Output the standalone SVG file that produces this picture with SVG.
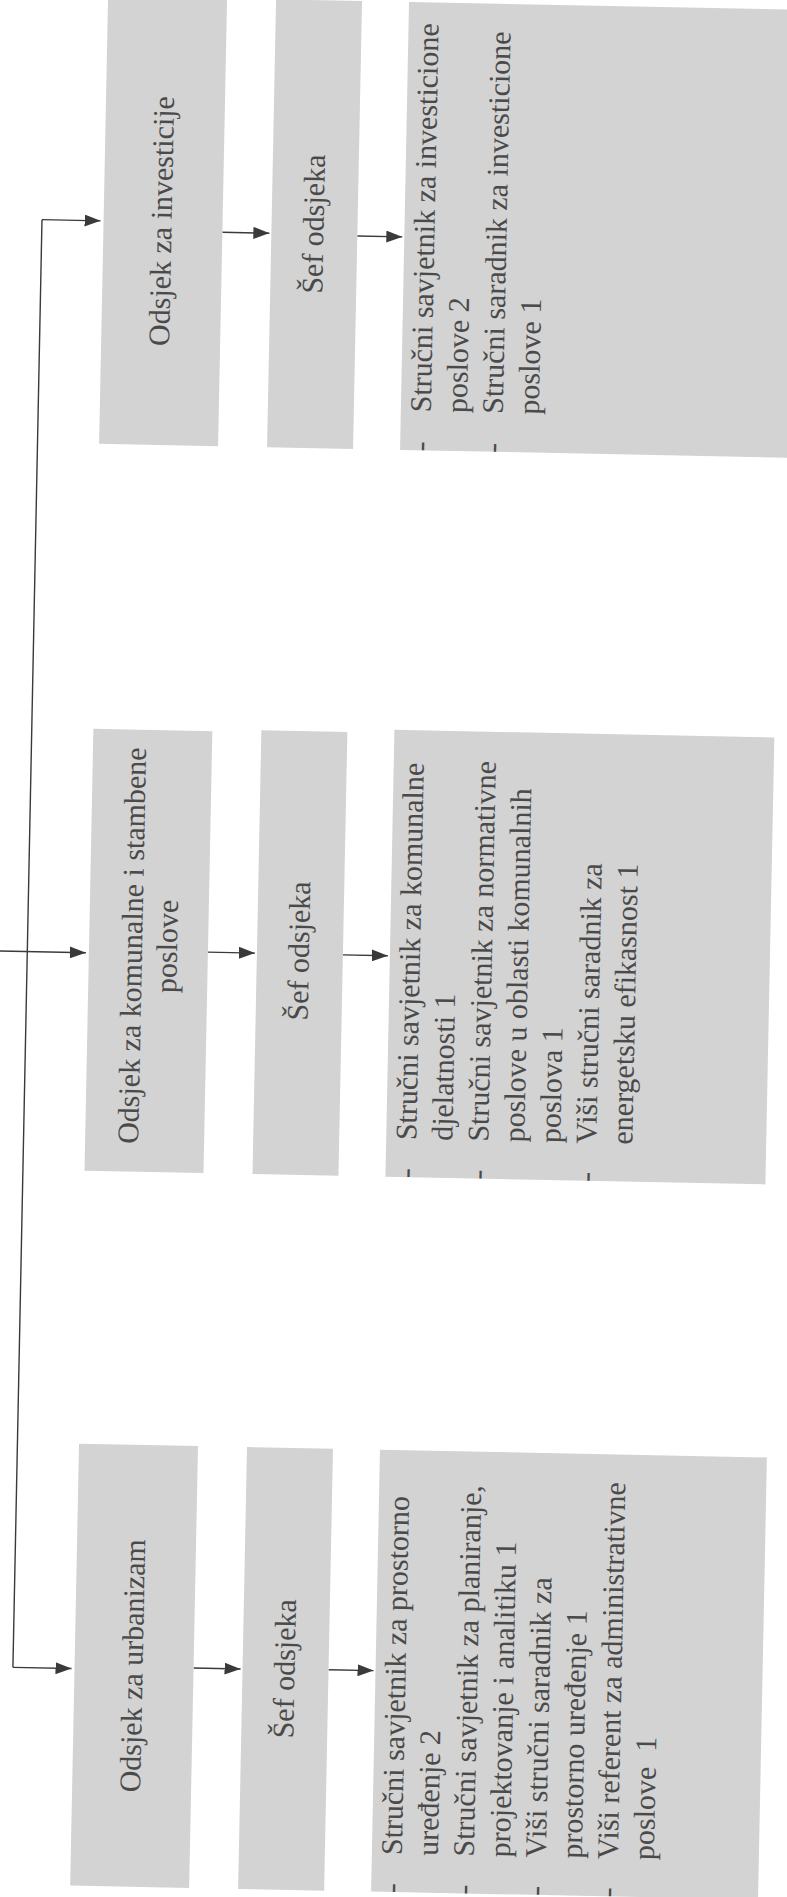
<svg xmlns="http://www.w3.org/2000/svg" width="787" height="1897" viewBox="0 0 787 1897">
<defs>
<style>
.box{fill:#d3d3d3}
.t{font-family:"Liberation Serif","Times New Roman",serif;font-size:30px;fill:#4a4a4a}
.m{text-anchor:middle}
.c{fill:none;stroke:#3a3a3a;stroke-width:1.4}
.a{marker-end:url(#ah)}
</style>
<marker id="ah" viewBox="0 0 16 12" refX="16" refY="6" markerWidth="16" markerHeight="12" markerUnits="userSpaceOnUse" orient="auto"><path d="M0,0 L16,6 L0,12 z" fill="#3a3a3a"/></marker>
</defs>
<rect x="0" y="0" width="787" height="1897" fill="#ffffff"/>
<g transform="rotate(1.15 400 950)">
<g id="connectors">
<path class="c" d="M27.4,227 V1675"/>
<path class="c a" d="M27.4,227 H86"/>
<path class="c a" d="M-20,959 H86"/>
<path class="c a" d="M27.4,1675 H86"/>
<path class="c a" d="M208,236 H255"/>
<path class="c a" d="M343,237 H388"/>
<path class="c a" d="M208,956 H255"/>
<path class="c a" d="M343,956 H388"/>
<path class="c a" d="M208,1672 H255"/>
<path class="c a" d="M343,1671 H388"/>
</g>
<g id="odsjek-investicije">
<rect class="box" x="89" y="2" width="119" height="448"/>
<text class="t m" transform="translate(157,226) rotate(-90)">Odsjek za investicije</text>
</g>
<g id="sef-investicije">
<rect class="box" x="257" y="2" width="86" height="448"/>
<text class="t m" transform="translate(309,226) rotate(-90)">Šef odsjeka</text>
</g>
<g id="poslovi-investicije">
<rect class="box" x="390" y="2" width="392" height="448"/>
<text class="t" transform="translate(0,412) rotate(-90)"><tspan x="0" y="420">Stručni savjetnik za investicione</tspan><tspan x="0" y="456">poslove 2</tspan><tspan x="0" y="492">Stručni saradnik za investicione</tspan><tspan x="0" y="528">poslove 1</tspan></text>
<text class="t" transform="translate(0,451) rotate(-90)"><tspan x="0" y="420">-</tspan><tspan x="0" y="492">-</tspan></text>
</g>
<g id="odsjek-komunalne">
<rect class="box" x="89" y="735" width="119" height="442"/>
<text class="t m" transform="translate(0,951) rotate(-90)"><tspan x="0" y="142">Odsjek za komunalne i stambene</tspan><tspan x="0" y="177">poslove</tspan></text>
</g>
<g id="sef-komunalne">
<rect class="box" x="257" y="733" width="86" height="444"/>
<text class="t m" transform="translate(309,953) rotate(-90)">Šef odsjeka</text>
</g>
<g id="poslovi-komunalne">
<rect class="box" x="390" y="730" width="380" height="447"/>
<text class="t" transform="translate(0,1140) rotate(-90)"><tspan x="0" y="420">Stručni savjetnik za komunalne</tspan><tspan x="0" y="456">djelatnosti 1</tspan><tspan x="0" y="492">Stručni savjetnik za normativne</tspan><tspan x="0" y="528">poslove u oblasti komunalnih</tspan><tspan x="0" y="564">poslova 1</tspan><tspan x="0" y="600">Viši stručni saradnik za</tspan><tspan x="0" y="636">energetsku efikasnost 1</tspan></text>
<text class="t" transform="translate(0,1178) rotate(-90)"><tspan x="0" y="420">-</tspan><tspan x="0" y="492">-</tspan><tspan x="0" y="600">-</tspan></text>
</g>
<g id="odsjek-urbanizam">
<rect class="box" x="89" y="1450" width="119" height="442"/>
<text class="t m" transform="translate(157,1671) rotate(-90)">Odsjek za urbanizam</text>
</g>
<g id="sef-urbanizam">
<rect class="box" x="257" y="1450" width="86" height="442"/>
<text class="t m" transform="translate(309,1671) rotate(-90)">Šef odsjeka</text>
</g>
<g id="poslovi-urbanizam">
<rect class="box" x="390" y="1450" width="387" height="442"/>
<text class="t" transform="translate(0,1855) rotate(-90)"><tspan x="0" y="420">Stručni savjetnik za prostorno</tspan><tspan x="0" y="456">uređenje 2</tspan><tspan x="0" y="492">Stručni savjetnik za planiranje,</tspan><tspan x="0" y="528">projektovanje i analitiku 1</tspan><tspan x="0" y="564">Viši stručni saradnik za</tspan><tspan x="0" y="600">prostorno uređenje 1</tspan><tspan x="0" y="636">Viši referent za administrativne</tspan><tspan x="0" y="672" style="white-space:pre">poslove  1</tspan></text>
<text class="t" transform="translate(0,1893) rotate(-90)"><tspan x="0" y="420">-</tspan><tspan x="0" y="492">-</tspan><tspan x="0" y="564">-</tspan><tspan x="0" y="636">-</tspan></text>
</g>
</g>
</svg>
